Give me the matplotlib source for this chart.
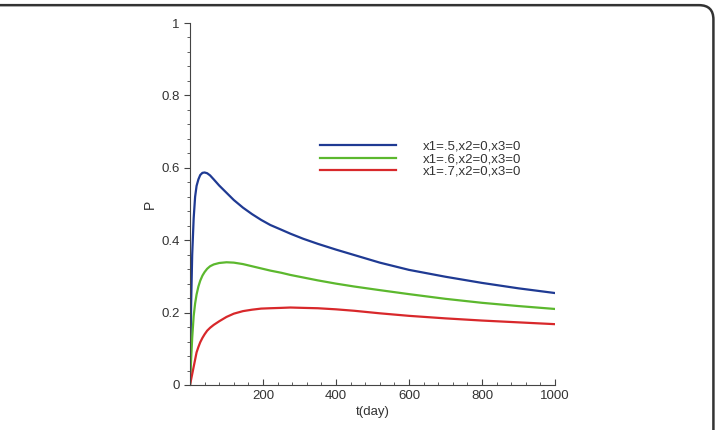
import matplotlib.pyplot as plt
from matplotlib.patches import FancyBboxPatch
from matplotlib.ticker import MultipleLocator

# values
t = [0, 3, 6, 10, 14, 18, 23, 28, 34, 40, 47, 55, 65, 80, 100, 120, 145, 170, 195, 220, 250, 275, 310, 350, 400, 450, 520, 600, 700, 800, 900, 1000]
p_05 = [0.0, 0.22, 0.36, 0.46, 0.52, 0.55, 0.568, 0.58, 0.586, 0.587, 0.585, 0.579, 0.568, 0.551, 0.531, 0.511, 0.49, 0.472, 0.456, 0.442, 0.429, 0.418, 0.404, 0.39, 0.374, 0.359, 0.338, 0.318, 0.299, 0.282, 0.267, 0.254]
p_06 = [0.0, 0.07, 0.13, 0.19, 0.225, 0.25, 0.272, 0.288, 0.302, 0.312, 0.321, 0.328, 0.333, 0.337, 0.339, 0.338, 0.334, 0.328, 0.322, 0.316, 0.31, 0.304, 0.297, 0.289, 0.28, 0.272, 0.262, 0.251, 0.238, 0.227, 0.218, 0.21]
p_07 = [0.0, 0.015, 0.03, 0.05, 0.07, 0.09, 0.105, 0.118, 0.13, 0.14, 0.15, 0.158, 0.166, 0.176, 0.188, 0.197, 0.204, 0.208, 0.211, 0.212, 0.213, 0.214, 0.213, 0.212, 0.209, 0.205, 0.198, 0.191, 0.184, 0.178, 0.173, 0.168]
labels = ['x1=.5,x2=0,x3=0', 'x1=.6,x2=0,x3=0', 'x1=.7,x2=0,x3=0']
colors = ['#1f3a93', '#5cb82e', '#d8282b']

plt.rcParams['font.family'] = ['Liberation Sans', 'DejaVu Sans']

fig = plt.figure(figsize=(7.17, 4.30), dpi=100)
ax = fig.add_axes([0.265, 0.1047, 0.509, 0.8418])

for vals, lab, c in zip([p_05, p_06, p_07], labels, colors):
    ax.plot(t, vals, color=c, lw=1.6, label=lab)

ax.set_xlim(0, 1000)
ax.set_ylim(0, 1)
ax.set_xticks([200, 400, 600, 800, 1000])
ax.set_yticks([0, 0.2, 0.4, 0.6, 0.8, 1])
ax.set_yticklabels(['0', '0.2', '0.4', '0.6', '0.8', '1'])
ax.xaxis.set_minor_locator(MultipleLocator(40))
ax.yaxis.set_minor_locator(MultipleLocator(0.04))
ax.tick_params(axis='x', which='both', direction='in', colors='#444444', labelcolor='#333333', labelsize=9.5)
ax.tick_params(axis='y', which='both', direction='out', colors='#444444', labelcolor='#333333', labelsize=9.5)
ax.tick_params(which='major', length=4)
ax.tick_params(which='minor', length=2.5)
for s in ['top', 'right']:
    ax.spines[s].set_visible(False)
for s in ['left', 'bottom']:
    ax.spines[s].set_color('#444444')

ax.set_xlabel('t(day)', fontsize=9.5, color='#333333', labelpad=3)
ax.set_ylabel('P', fontsize=10, color='#333333', labelpad=3)

ax.legend(loc='upper left', bbox_to_anchor=(0.338, 0.693), frameon=False,
          fontsize=9.5, handlelength=5.8, handletextpad=2.0, labelspacing=0.0,
          borderpad=0, labelcolor='#333333')

# rounded frame round the figure
frame = FancyBboxPatch((-0.05, -0.2), 1.045, 1.188, boxstyle='round,pad=0,rounding_size=0.02',
                       transform=fig.transFigure, fill=False, edgecolor='#333333', lw=1.8,
                       mutation_aspect=717 / 430)
fig.patches.append(frame)

fig.savefig('out.png', dpi=100)
